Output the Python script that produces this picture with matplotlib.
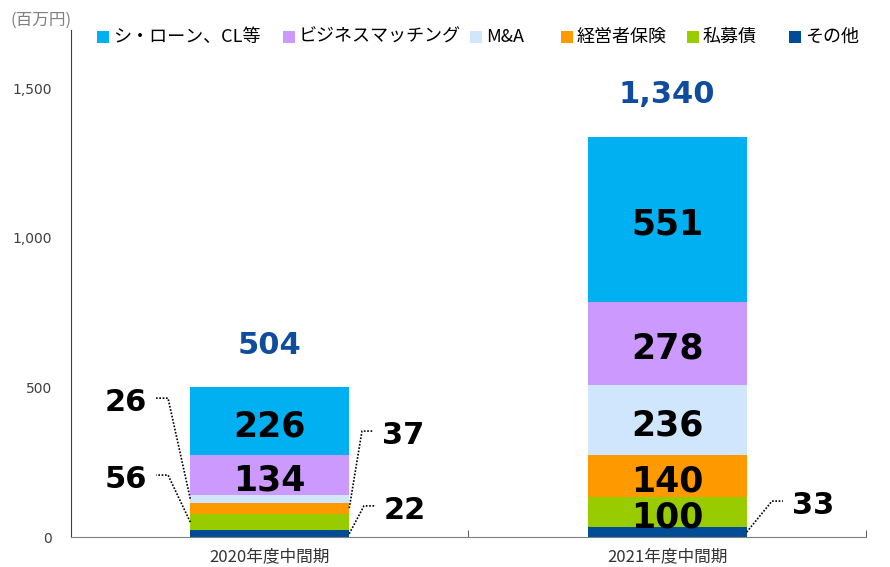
import matplotlib.pyplot as plt
from matplotlib.patches import Rectangle
import numpy as np

plt.rcParams['font.family'] = ['Noto Sans CJK JP', 'DejaVu Sans']

# データ（百万円）
periods = ['2020年度中間期', '2021年度中間期']
series = ['シ・ローン、CL等', 'ビジネスマッチング', 'M&A', '経営者保険', '私募債', 'その他']
syndicate = [226, 551]
matching = [134, 278]
manda = [26, 236]
insurance = [37, 140]
bonds = [56, 100]
others = [22, 33]
totals = ['504', '1,340']

colors = ['#00B0F0', '#CC99FF', '#D0E6FC', '#FF9900', '#99CC00', '#004C97']

# 下から積む順
stack = [others, bonds, insurance, manda, matching, syndicate]
stack_colors = colors[::-1]

W, H = 890, 567
fig = plt.figure(figsize=(W / 100, H / 100), dpi=100)
ax = fig.add_axes([0.0798, 0.0529, 0.8932, 0.894])

x = np.arange(len(periods))
bottom = np.zeros(len(periods))
bottoms = []
for vals, c in zip(stack, stack_colors):
    ax.bar(x, vals, bottom=bottom, width=0.4, color=c, edgecolor='none', zorder=2)
    bottoms.append(bottom.copy())
    bottom = bottom + np.array(vals)

ax.set_xlim(-0.5, 1.5)
ax.set_ylim(0, 1694)

big = dict(fontsize=25, fontweight='bold', color='black', family='DejaVu Sans')

# セグメント内のラベル
inside = {
    (0, 5): '226', (0, 4): '134',
    (1, 5): '551', (1, 4): '278', (1, 3): '236', (1, 2): '140', (1, 1): '100',
}
for (i, k), s in inside.items():
    y = bottoms[k][i] + stack[k][i] / 2
    ax.annotate(s, (x[i], y), xytext=(0, -4), textcoords='offset points',
                ha='center', va='center', zorder=3, **big)

# 合計
for i, t in enumerate(totals):
    ax.text(x[i], bottom[i] + 140, t, ha='center', va='center', fontsize=22,
            fontweight='bold', color='#0F4C9E', family='DejaVu Sans')

# 引き出し線付きラベル: (棒, 系列index, 向き, 折れ点, 線端, 文字位置, 線のy)
callouts = [
    (0, 3, -1, 0.056, 0.086, 0.163, 464),
    (0, 1, -1, 0.056, 0.086, 0.163, 207),
    (0, 2, 1, 0.032, 0.062, 0.135, 354),
    (0, 0, 1, 0.037, 0.067, 0.140, 104),
    (1, 0, 1, 0.0635, 0.091, 0.167, 120),
]
for i, k, d, bend, end, toff, ty in callouts:
    yseg = bottoms[k][i] + stack[k][i] / 2
    xe = x[i] + d * 0.2
    ax.plot([xe, xe + d * bend, xe + d * end], [yseg, ty, ty], color='black',
            linestyle=(0, (1, 1)), lw=1.2, zorder=4, clip_on=False)
    ax.annotate(str(stack[k][i]), (xe + d * toff, ty), xytext=(0, -3),
                textcoords='offset points', ha='center', va='center',
                fontsize=22, fontweight='bold', color='black', family='DejaVu Sans')

# 軸
ax.set_yticks([0, 500, 1000, 1500])
ax.set_yticklabels(['0', '500', '1,000', '1,500'], family='DejaVu Sans')
ax.tick_params(axis='y', length=0, labelsize=10, colors='#404040', pad=13.5)
ax.set_xticks(x)
ax.set_xticklabels(periods)
ax.tick_params(axis='x', which='major', length=0, labelsize=12, pad=8, colors='#333333')
ax.set_xticks([-0.5, 0.5, 1.5], minor=True)
ax.tick_params(axis='x', which='minor', direction='in', length=5, color='#404040')
for sp in ['top', 'right']:
    ax.spines[sp].set_visible(False)
ax.spines['left'].set_color('#404040')
ax.spines['bottom'].set_color('#7F7F7F')

fig.text(10 / W, 1 - 20 / H, '(百万円)', fontsize=12, color='#808080', ha='left', va='center')

# 凡例（手置き）
sq_x = [97, 283, 470, 561, 687, 789]
leg_y = 37
for px, c, s in zip(sq_x, colors, series):
    fig.add_artist(Rectangle((px / W, 1 - (leg_y + 6) / H), 12 / W, 12 / H,
                             transform=fig.transFigure, facecolor=c, edgecolor='none'))
    fig.text((px + 16) / W, 1 - leg_y / H, s, fontsize=13, color='black',
             ha='left', va='center')

fig.savefig('out.png', dpi=100)
